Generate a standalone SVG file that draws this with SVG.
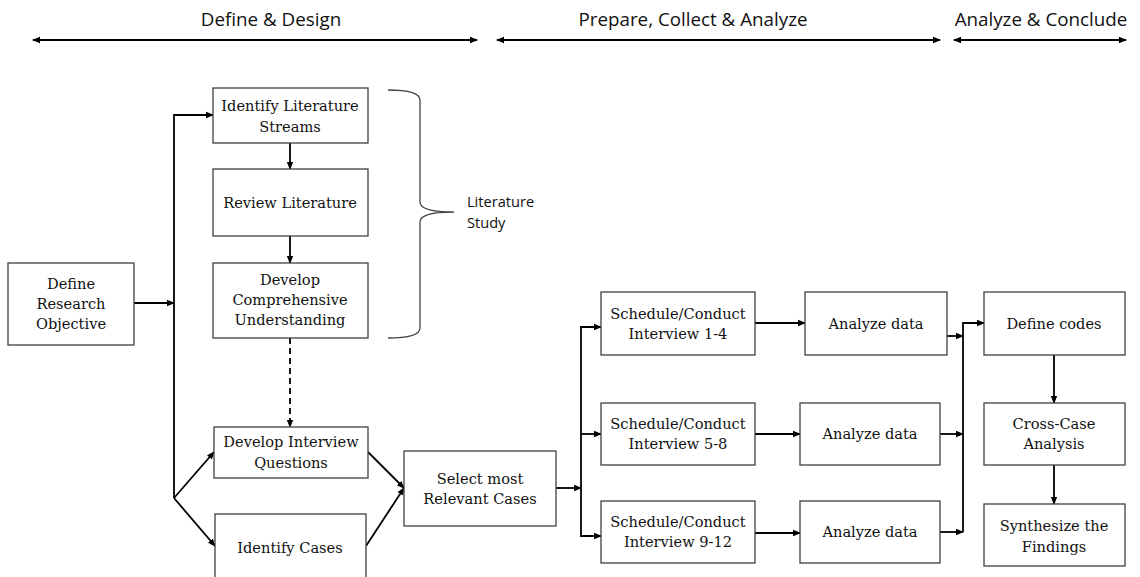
<svg xmlns="http://www.w3.org/2000/svg" width="1140" height="577" viewBox="0 0 1140 577">
<style>
.box{fill:#fff;stroke:#404040;stroke-width:1.3}
.t{font-family:"DejaVu Serif","Liberation Serif",serif;font-size:14.6px;fill:#111;text-anchor:middle}
.h{font-family:"Open Sans","Liberation Sans",sans-serif;font-size:18.8px;fill:#111;text-anchor:middle}
.s{font-family:"Open Sans","Liberation Sans",sans-serif;font-size:14.6px;fill:#111}
.c{fill:none;stroke:#000;stroke-width:1.8}
</style>
<defs>
<marker id="a" markerWidth="8" markerHeight="8" refX="7" refY="4" orient="auto" markerUnits="userSpaceOnUse"><path d="M0,0.8 L8,4 L0,7.2 z" fill="#000"/></marker>
<marker id="as" markerWidth="8" markerHeight="8" refX="1" refY="4" orient="auto" markerUnits="userSpaceOnUse"><path d="M8,0.8 L0,4 L8,7.2 z" fill="#000"/></marker>
</defs>
<g id="phases">
<text class="h" x="271" y="26">Define &amp; Design</text>
<text class="h" x="693" y="26">Prepare, Collect &amp; Analyze</text>
<text class="h" x="1041" y="26">Analyze &amp; Conclude</text>
<line class="c" x1="33" y1="40" x2="477" y2="40" marker-start="url(#as)" marker-end="url(#a)"/>
<line class="c" x1="497" y1="40" x2="940" y2="40" marker-start="url(#as)" marker-end="url(#a)"/>
<line class="c" x1="954" y1="40" x2="1126" y2="40" marker-start="url(#as)" marker-end="url(#a)"/>
</g>
<g id="connectors">
<line class="c" x1="134" y1="303" x2="174" y2="303" marker-end="url(#a)"/>
<polyline class="c" points="174,498 174,115 213,115" marker-end="url(#a)"/>
<line class="c" x1="174" y1="498" x2="214" y2="452" marker-end="url(#a)"/>
<line class="c" x1="174" y1="498" x2="215" y2="546" marker-end="url(#a)"/>
<line class="c" x1="290" y1="143" x2="290" y2="169" marker-end="url(#a)"/>
<line class="c" x1="290" y1="236" x2="290" y2="263" marker-end="url(#a)"/>
<line class="c" x1="290" y1="338" x2="290" y2="427" stroke-dasharray="6,4" marker-end="url(#a)"/>
<line class="c" x1="368" y1="452" x2="404" y2="488" marker-end="url(#a)"/>
<line class="c" x1="366" y1="546" x2="404" y2="488" marker-end="url(#a)"/>
<line class="c" x1="556" y1="488" x2="581" y2="488" marker-end="url(#a)"/>
<polyline class="c" points="601,327 581,327 581,536 601,536" marker-end="url(#a)"/>
<line class="c" x1="581" y1="327" x2="601" y2="327" marker-end="url(#a)"/>
<line class="c" x1="581" y1="434" x2="601" y2="434" marker-end="url(#a)"/>
<line class="c" x1="755" y1="323" x2="805" y2="323" marker-end="url(#a)"/>
<line class="c" x1="755" y1="434" x2="800" y2="434" marker-end="url(#a)"/>
<line class="c" x1="755" y1="533" x2="800" y2="533" marker-end="url(#a)"/>
<line class="c" x1="947" y1="336" x2="963" y2="336" marker-end="url(#a)"/>
<line class="c" x1="940" y1="434" x2="963" y2="434" marker-end="url(#a)"/>
<line class="c" x1="940" y1="532" x2="963" y2="532" marker-end="url(#a)"/>
<polyline class="c" points="963,532 963,323 984,323" marker-end="url(#a)"/>
<line class="c" x1="1054" y1="355" x2="1054" y2="403" marker-end="url(#a)"/>
<line class="c" x1="1054" y1="465" x2="1054" y2="504" marker-end="url(#a)"/>
</g>
<g id="brace">
<path d="M388,90 Q420,90 420,100 L420,202 Q420,212 454,212 Q420,212 420,222 L420,328 Q420,338 388,338" fill="none" stroke="#444" stroke-width="1.3"/>
<text class="s" x="467" y="207">Literature</text>
<text class="s" x="467" y="228">Study</text>
</g>
<g id="n-define"><rect class="box" x="8" y="263" width="126" height="82"/><text class="t" x="71" y="289">Define</text><text class="t" x="71" y="309">Research</text><text class="t" x="71" y="329">Objective</text></g>
<g id="n-ils"><rect class="box" x="213" y="88" width="155" height="55"/><text class="t" x="290" y="111">Identify Literature</text><text class="t" x="290" y="132">Streams</text></g>
<g id="n-rl"><rect class="box" x="213" y="169" width="155" height="67"/><text class="t" x="290" y="208">Review Literature</text></g>
<g id="n-dcu"><rect class="box" x="213" y="263" width="155" height="75"/><text class="t" x="290" y="285">Develop</text><text class="t" x="290" y="305">Comprehensive</text><text class="t" x="290" y="325">Understanding</text></g>
<g id="n-diq"><rect class="box" x="214" y="427" width="154" height="51"/><text class="t" x="291" y="447">Develop Interview</text><text class="t" x="291" y="468">Questions</text></g>
<g id="n-ic"><rect class="box" x="215" y="514" width="151" height="70"/><text class="t" x="290" y="553">Identify Cases</text></g>
<g id="n-smrc"><rect class="box" x="404" y="451" width="152" height="75"/><text class="t" x="480" y="484">Select most</text><text class="t" x="480" y="504">Relevant Cases</text></g>
<g id="n-s1"><rect class="box" x="601" y="292" width="154" height="63"/><text class="t" x="678" y="319">Schedule/Conduct</text><text class="t" x="678" y="339">Interview 1-4</text></g>
<g id="n-a1"><rect class="box" x="805" y="292" width="142" height="63"/><text class="t" x="876" y="329">Analyze data</text></g>
<g id="n-s2"><rect class="box" x="601" y="403" width="154" height="62"/><text class="t" x="678" y="429">Schedule/Conduct</text><text class="t" x="678" y="449">Interview 5-8</text></g>
<g id="n-a2"><rect class="box" x="800" y="403" width="140" height="62"/><text class="t" x="870" y="439">Analyze data</text></g>
<g id="n-s3"><rect class="box" x="601" y="501" width="154" height="62"/><text class="t" x="678" y="527">Schedule/Conduct</text><text class="t" x="678" y="547">Interview 9-12</text></g>
<g id="n-a3"><rect class="box" x="800" y="501" width="140" height="62"/><text class="t" x="870" y="537">Analyze data</text></g>
<g id="n-dc"><rect class="box" x="984" y="292" width="141" height="63"/><text class="t" x="1054" y="329">Define codes</text></g>
<g id="n-cca"><rect class="box" x="984" y="403" width="141" height="62"/><text class="t" x="1054" y="429">Cross-Case</text><text class="t" x="1054" y="449">Analysis</text></g>
<g id="n-stf"><rect class="box" x="984" y="504" width="141" height="62"/><text class="t" x="1054" y="531">Synthesize the</text><text class="t" x="1054" y="552">Findings</text></g>
</svg>
